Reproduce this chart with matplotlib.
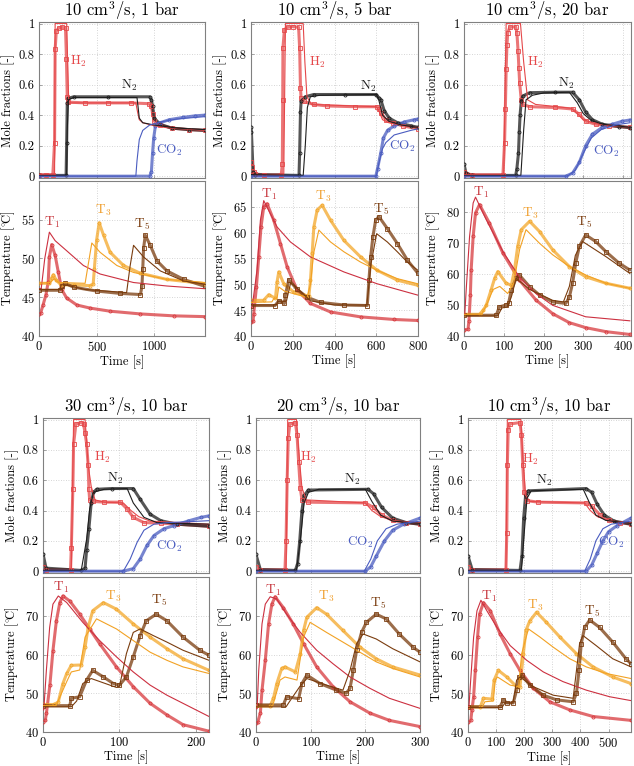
import matplotlib
matplotlib.use("Agg")
import matplotlib.pyplot as plt
import numpy as np

plt.rcParams['font.family'] = ['cmr10', 'DejaVu Serif']
plt.rcParams['mathtext.fontset'] = 'cm'
plt.rcParams['axes.formatter.use_mathtext'] = True
plt.rcParams['axes.unicode_minus'] = False

# ---- titles / limits ----
titles = ['10 cm$^3$/s, 1 bar', '10 cm$^3$/s, 5 bar', '10 cm$^3$/s, 20 bar',
          '30 cm$^3$/s, 10 bar', '20 cm$^3$/s, 10 bar', '10 cm$^3$/s, 10 bar']
xmax = [1440, 800, 420, 217, 300, 580]
xticks = [[0, 500, 1000], [0, 200, 400, 600, 800], [0, 100, 200, 300, 400],
          [0, 100, 200], [0, 100, 200, 300], [0, 100, 200, 300, 400, 500]]
tmax = [60, 70, 90, 80, 80, 80]
tstep = [5, 5, 10, 10, 10, 10]

# ---- panel A: 10 cm3/s, 1 bar ----
a_h2_exp = [(0,0.01),(60,0.01),(120,0.01),(135,0.22),(140,0.83),(150,0.95),(170,0.97),(200,0.975),(230,0.97),(238,0.77),(245,0.52),(255,0.485),(400,0.48),(600,0.48),(800,0.48),(950,0.475),(975,0.46),(985,0.41),(1000,0.36),(1050,0.335),(1150,0.315),(1300,0.305),(1440,0.30)]
a_h2_mod = [(0,0.01),(135,0.01),(140,1.0),(240,1.0),(258,0.48),(840,0.48),(855,0.42),(870,0.37),(900,0.35),(1000,0.33),(1150,0.315),(1440,0.30)]
a_n2_exp = [(0,0.005),(235,0.005),(240,0.22),(245,0.48),(255,0.51),(300,0.52),(600,0.52),(960,0.52),(975,0.50),(985,0.46),(1000,0.38),(1050,0.34),(1150,0.315),(1300,0.305),(1440,0.30)]
a_n2_mod = [(0,0.005),(240,0.005),(245,0.3),(255,0.5),(300,0.515),(850,0.515),(860,0.45),(870,0.38),(900,0.35),(1000,0.335),(1200,0.315),(1440,0.305)]
a_co2_exp = [(0,0.0),(960,0.0),(975,0.03),(985,0.15),(995,0.25),(1010,0.33),(1050,0.35),(1130,0.37),(1250,0.385),(1350,0.395),(1440,0.40)]
a_co2_mod = [(0,0.0),(840,0.0),(850,0.1),(870,0.24),(900,0.3),(960,0.335),(1050,0.355),(1200,0.375),(1440,0.39)]
a_t1_exp = [(0,42.8),(15,43.0),(35,44.0),(60,45.3),(80,47),(90,50.2),(110,51.8),(140,50.4),(168,48.2),(197,46.0),(240,44.9),(328,44.0),(443,43.6),(617,43.2),(878,42.85),(1168,42.6),(1440,42.5)]
a_t1_mod = [(0,46.0),(20,46.2),(50,50),(90,53.4),(140,52.3),(240,51.0),(385,49.1),(530,48.0),(820,46.9),(1110,46.45),(1440,46.1)]
a_t3_exp = [(0,46.8),(90,46.8),(110,47.5),(125,47.9),(150,47.2),(190,46.6),(300,46.6),(440,46.5),(470,46.7),(480,48.6),(500,52.4),(522,54.6),(560,53.0),(617,50.8),(733,49.1),(878,48.1),(1110,47.3),(1440,46.75)]
a_t3_mod = [(0,46.8),(100,46.9),(130,47.4),(170,46.9),(400,46.8),(430,49.5),(458,52.0),(530,50.8),(675,49.1),(820,48.2),(1110,47.3),(1440,46.9)]
a_t5_exp = [(0,45.9),(180,45.9),(200,46.5),(225,46.8),(300,46.3),(500,45.8),(700,45.5),(880,45.35),(893,46.4),(900,48.6),(907,51.3),(922,53.0),(965,51.7),(1023,49.7),(1110,48.4),(1255,47.3),(1440,46.4)]
a_t5_mod = [(0,46.0),(200,46.0),(230,46.6),(400,46.0),(760,45.6),(790,49),(820,51.7),(907,50.2),(1052,48.4),(1255,47.1),(1440,46.7)]

# ---- panel B: 10 cm3/s, 5 bar ----
b_h2_exp = [(0,0.09),(5,0.06),(12,0.03),(20,0.015),(60,0.008),(145,0.01),(150,0.08),(152,0.5),(153,0.84),(160,0.96),(175,0.975),(200,0.98),(228,0.975),(233,0.84),(237,0.58),(240,0.51),(252,0.49),(300,0.47),(365,0.46),(500,0.455),(605,0.455),(614,0.44),(622,0.415),(646,0.37),(678,0.35),(726,0.33),(800,0.31)]
b_h2_mod = [(0,0.02),(20,0.01),(157,0.01),(165,1.0),(250,1.0),(258,0.75),(268,0.52),(290,0.47),(600,0.455),(612,0.43),(630,0.37),(660,0.35),(720,0.335),(800,0.32)]
b_n2_exp = [(0,0.32),(2,0.29),(10,0.03),(20,0.01),(230,0.005),(233,0.15),(237,0.42),(240,0.49),(260,0.52),(300,0.535),(450,0.535),(600,0.535),(614,0.51),(622,0.5),(638,0.43),(662,0.38),(702,0.35),(766,0.33),(800,0.32)]
b_n2_mod = [(0,0.01),(250,0.005),(260,0.2),(270,0.45),(284,0.52),(330,0.53),(600,0.535),(612,0.5),(630,0.4),(660,0.36),(720,0.335),(800,0.32)]
b_co2_exp = [(0,0),(598,0.0),(606,0.05),(622,0.155),(634,0.25),(654,0.3),(686,0.33),(734,0.355),(782,0.37),(800,0.375)]
b_co2_mod = [(0,0),(600,0.0),(615,0.1),(630,0.18),(646,0.22),(686,0.27),(766,0.3),(800,0.31)]
b_t1_exp = [(0,42.8),(10,42.9),(13,44.3),(26,49.5),(37,55.3),(48,61.1),(61,65.0),(77,65.6),(109,62.4),(141,57.9),(173,53.4),(221,48.9),(285,46.3),(381,44.65),(525,43.7),(685,43.2),(800,43.0)]
b_t1_mod = [(0,45.5),(5,45.5),(29,52.7),(45,62.4),(61,66.2),(125,61.1),(189,58.2),(285,55.3),(445,52.4),(605,50.1),(800,47.9)]
b_t3_exp = [(0,46.9),(60,46.9),(85,48.0),(117,47.3),(125,50.5),(133,52.4),(157,50.1),(205,48.5),(253,47.9),(277,47.7),(285,50.8),(293,56.0),(301,61.1),(317,64.4),(341,65.3),(381,62.4),(445,58.5),(525,55.3),(605,52.7),(701,50.8),(800,49.8)]
b_t3_mod = [(0,46.5),(100,46.6),(110,47.3),(125,47.3),(133,49.5),(160,48.7),(221,48.0),(269,47.5),(285,50),(300,56),(325,60.5),(381,58.2),(445,56.3),(525,54.3),(605,52.7),(701,51.1),(800,50.1)]
b_t5_exp = [(0,45.9),(115,45.9),(133,46.8),(160,46.3),(165,48),(181,50.9),(221,49.0),(269,47.5),(333,46.5),(445,46.0),(557,45.9),(565,50.8),(573,55.3),(584,59.2),(597,62.4),(613,63.1),(653,60.8),(701,57.9),(749,54.7),(800,52.1)]
b_t5_mod = [(0,46.0),(120,46.0),(130,46.7),(170,46.8),(190,50.3),(215,49.5),(285,46.8),(400,46.0),(555,46.0),(575,54),(602,59.8),(653,58.2),(701,56.3),(749,54.3),(800,52.7)]

# ---- panel C: 10 cm3/s, 20 bar ----
c_h2_exp = [(0,0.03),(5,0.015),(20,0.01),(98,0.01),(102,0.22),(104,0.44),(106,0.70),(108,0.86),(110,0.94),(115,0.975),(130,0.98),(133,0.94),(136,0.82),(138,0.71),(140,0.61),(144,0.50),(148,0.47),(165,0.455),(230,0.45),(273,0.44),(290,0.405),(306,0.36),(331,0.34),(365,0.33),(417,0.32)]
c_h2_mod = [(0,0.01),(100,0.01),(106,1.0),(142,1.0),(150,0.75),(160,0.5),(180,0.47),(270,0.445),(285,0.41),(300,0.37),(330,0.345),(370,0.33),(417,0.32)]
c_n2_exp = [(0,0.08),(5,0.02),(20,0.005),(130,0.005),(133,0.05),(137,0.15),(139,0.29),(141,0.40),(144,0.49),(148,0.525),(165,0.547),(230,0.55),(273,0.55),(290,0.50),(306,0.42),(323,0.37),(348,0.34),(390,0.325),(417,0.318)]
c_n2_mod = [(0,0.005),(143,0.005),(150,0.3),(156,0.5),(172,0.53),(200,0.545),(265,0.55),(285,0.48),(300,0.41),(320,0.365),(350,0.34),(417,0.32)]
c_co2_exp = [(0,0),(256,0.0),(273,0.02),(290,0.09),(306,0.2),(323,0.275),(348,0.32),(373,0.34),(398,0.36),(417,0.368)]
c_co2_mod = [(0,0),(260,0.0),(280,0.04),(300,0.15),(320,0.25),(345,0.305),(380,0.335),(417,0.35)]
c_t1_exp = [(0,42.05),(10,42.1),(12.5,45),(16,53.2),(18,61.3),(23,72.1),(29,79.7),(39,82.4),(64,76.4),(98,66.7),(139,58.1),(181,51.6),(223,47.2),(265,44.3),(306,42.7),(357,41.4),(417,40.5)]
c_t1_mod = [(0,47.2),(2,47.2),(6,55.9),(14,72.1),(23,82.9),(29,84.8),(56,77.5),(98,67.2),(139,59.1),(181,53.7),(223,49.9),(306,46.2),(417,44.9)]
c_t3_exp = [(0,47.0),(39,47.0),(48,48.3),(56,49.9),(68,54.8),(77,58.6),(85,60.8),(106,57.0),(119,56.4),(127,61.3),(135,68.9),(144,74.3),(165,77.0),(190,73.7),(223,67.8),(265,62.4),(306,59.1),(357,57.0),(417,55.4)]
c_t3_mod = [(0,47.0),(45,47.0),(60,51),(73,55),(90,56),(110,53.7),(125,57),(140,68),(156,74.3),(190,69.9),(223,66.2),(265,62.4),(306,59.7),(357,57.0),(417,55.4)]
c_t5_exp = [(0,46.7),(81,46.7),(89,49.4),(106,50.0),(112,50.5),(119,54.8),(131,58.6),(139,59.7),(165,55.9),(190,53.2),(223,51.0),(256,50.5),(265,52.6),(273,57.0),(281,63.5),(290,68.9),(306,72.6),(331,70.5),(357,67.2),(390,63.5),(417,61.3)]
c_t5_mod = [(0,46.5),(85,46.5),(95,49.0),(110,49.5),(120,53),(131,58.6),(165,55),(223,51.5),(250,51),(265,56),(280,66),(298,70.5),(357,65.6),(417,60.2)]

# ---- panel D: 30 cm3/s, 10 bar ----
d_h2_exp = [(0,0.03),(4,0.01),(36,0.01),(37,0.15),(39,0.54),(40,0.84),(43,0.97),(50,0.98),(53,0.97),(55,0.91),(57,0.84),(59,0.70),(60,0.54),(61,0.47),(66,0.46),(80,0.455),(101,0.455),(110,0.41),(118,0.355),(132,0.32),(154,0.317),(175,0.31),(217,0.296)]
d_h2_mod = [(0,0.005),(37,0.005),(40,1.0),(55,1.0),(57,0.86),(59,0.7),(63,0.56),(68,0.47),(80,0.455),(105,0.45),(115,0.40),(125,0.36),(140,0.33),(217,0.31)]
d_n2_exp = [(0,0.115),(4,0.02),(50,0.005),(55,0.02),(57,0.14),(60,0.28),(63,0.45),(66,0.52),(70,0.54),(90,0.545),(118,0.545),(127,0.474),(140,0.376),(154,0.333),(175,0.31),(217,0.296)]
d_n2_mod = [(0,0.005),(50,0.005),(57,0.21),(61,0.41),(66,0.52),(80,0.54),(110,0.545),(118,0.45),(132,0.355),(149,0.32),(217,0.31)]
d_co2_exp = [(0,0),(105,0.0),(118,0.017),(127,0.08),(136,0.17),(145,0.235),(158,0.28),(171,0.30),(189,0.33),(206,0.354),(217,0.365)]
d_co2_mod = [(0,0),(105,0.0),(114,0.08),(123,0.19),(132,0.27),(145,0.31),(162,0.32),(189,0.326),(217,0.333)]
d_t1_exp = [(0,42.7),(3,43.0),(4.5,44.9),(9,52.1),(13,61),(17.5,68.7),(22,73.4),(26,75.1),(35,73.8),(48,70.4),(61,66.6),(74,62.8),(96,56.8),(118,51.7),(140,47.4),(162,44.4),(183,41.9),(217,40.2)]
d_t1_mod = [(0,45.7),(1,45.7),(4.4,55.9),(8.7,67.0),(13,73),(20,75.1),(31,73.4),(52,68.3),(74,63.6),(96,59.4),(118,55.5),(140,52.1),(162,49.5),(183,47.4),(217,44.0)]
d_t3_exp = [(0,47.1),(15,47.1),(20,47.8),(26,52.5),(31,55.1),(37,57.2),(50,57.3),(55,61.9),(59,67.0),(65,71.3),(79,73.4),(96,71.7),(118,67.9),(140,64.5),(162,61.5),(183,58.9),(217,55.9)]
d_t3_mod = [(0,46.8),(17,46.8),(31,53.0),(37,55.5),(48,56),(55,64.5),(70,69.2),(96,66.6),(118,63.6),(140,60.6),(162,58.5),(183,56.8),(217,55.1)]
d_t5_exp = [(0,46.8),(35,46.8),(37,48.7),(48,49.1),(57,53.4),(65,55.9),(79,54.2),(92,52.5),(100,52.1),(109,54.2),(118,59.4),(127,64.9),(135,68.7),(148,70.4),(162,68.7),(183,64.5),(205,61.1),(217,59.8)]
d_t5_mod = [(0,46.5),(37,46.5),(44,48),(52,52.5),(63,53.8),(96,51.5),(100,51.8),(109,60.2),(118,65.7),(127,66.6),(144,64.9),(162,63.2),(183,61.1),(217,58.5)]

# ---- panel E: 20 cm3/s, 10 bar ----
e_h2_exp = [(0,0.03),(8,0.01),(53,0.01),(55,0.2),(57,0.6),(59,0.88),(62,0.97),(72,0.98),(75,0.9),(78,0.72),(81,0.55),(84,0.47),(95,0.455),(200,0.45),(215,0.42),(230,0.37),(250,0.335),(275,0.32),(300,0.31)]
e_h2_mod = [(0,0.005),(55,0.005),(58,1.0),(74,1.0),(78,0.8),(84,0.55),(92,0.47),(200,0.45),(212,0.4),(228,0.36),(250,0.335),(300,0.315)]
e_n2_exp = [(0,0.11),(8,0.01),(72,0.005),(76,0.05),(80,0.2),(84,0.4),(88,0.5),(96,0.535),(205,0.54),(215,0.51),(230,0.42),(250,0.35),(275,0.32),(300,0.31)]
e_n2_mod = [(0,0.005),(74,0.005),(81,0.2),(88,0.45),(96,0.52),(115,0.54),(200,0.54),(212,0.46),(228,0.37),(250,0.33),(300,0.315)]
e_co2_exp = [(0,0),(200,0.0),(210,0.03),(220,0.1),(235,0.2),(250,0.27),(270,0.31),(300,0.35)]
e_co2_mod = [(0,0),(198,0.0),(210,0.08),(222,0.2),(238,0.28),(258,0.31),(300,0.33)]
e_t1_exp = [(0,42.3),(3,42.5),(8,44.9),(11,50.8),(17,58.5),(23,67.9),(29,73),(35,74.9),(50,72.1),(68,67.9),(87,62.8),(111,56.8),(141,51.7),(172,47.8),(208,44.9),(244,43.0),(300,41.4)]
e_t1_mod = [(0,46.0),(2,46),(5,55.9),(11,67.9),(17,73),(26,74.9),(38,74.3),(56,70.4),(81,65.7),(111,61.1),(141,57.6),(172,54.2),(208,51.3),(244,48.7),(300,46.1)]
e_t3_exp = [(0,46.8),(26,46.8),(32,48.7),(38,52.5),(47,56.4),(53,56.8),(72,55.5),(81,60.2),(87,66.2),(93,69.6),(111,72.1),(129,70.4),(159,66.2),(190,61.9),(220,58.9),(250,56.8),(300,54.7)]
e_t3_mod = [(0,46.5),(30,46.5),(44,53.4),(53,54.2),(75,53.4),(87,64.5),(99,68.3),(129,65.7),(159,63.2),(190,60.6),(220,58.1),(250,56.4),(300,54.2)]
e_t5_exp = [(0,47.0),(50,47.0),(56,49.1),(78,48.6),(84,52.5),(93,54.7),(117,52.5),(147,50.8),(165,50.0),(172,51.3),(178,55.9),(184,61.1),(193,65.7),(202,68.3),(220,70.4),(238,69.2),(262,65.3),(287,61.9),(300,60.6)]
e_t5_mod = [(0,46.5),(55,46.5),(62,48),(80,51.7),(93,53.8),(129,52.1),(159,50.8),(172,55.9),(184,62.8),(196,65.3),(220,64.0),(250,61.5),(300,58.1)]

# ---- panel F: 10 cm3/s, 10 bar ----
f_h2_exp = [(0,0.03),(15,0.01),(135,0.01),(138,0.25),(140,0.7),(143,0.93),(148,0.97),(185,0.98),(190,0.9),(195,0.7),(200,0.52),(210,0.465),(250,0.455),(420,0.45),(440,0.43),(470,0.37),(500,0.335),(540,0.32),(580,0.31)]
f_h2_mod = [(0,0.005),(135,0.005),(140,1.0),(188,1.0),(195,0.75),(205,0.5),(220,0.46),(415,0.45),(435,0.4),(460,0.36),(500,0.335),(580,0.315)]
f_n2_exp = [(0,0.1),(15,0.01),(185,0.005),(192,0.1),(198,0.35),(205,0.5),(215,0.53),(420,0.545),(440,0.52),(460,0.44),(485,0.37),(520,0.33),(580,0.31)]
f_n2_mod = [(0,0.005),(190,0.005),(200,0.25),(210,0.48),(225,0.53),(410,0.54),(430,0.46),(455,0.37),(490,0.335),(580,0.315)]
f_co2_exp = [(0,0),(420,0.0),(440,0.04),(460,0.12),(480,0.2),(500,0.26),(530,0.3),(580,0.35)]
f_co2_mod = [(0,0),(415,0.0),(435,0.08),(455,0.2),(480,0.28),(510,0.31),(580,0.33)]
f_t1_exp = [(0,42.5),(10,43),(14,45.7),(20,49.1),(26,55.9),(34,64.5),(41,70.4),(55,73.4),(79,71.3),(114,65.3),(150,60.2),(185,55.9),(232,51.3),(291,47.8),(362,45.7),(445,44.0),(580,43.0)]
f_t1_mod = [(0,46.0),(3,46),(8,51.7),(20,64.5),(32,71.3),(46,74.0),(67,71.3),(103,67.0),(150,62.3),(209,58.5),(268,55.5),(338,53.0),(421,50.8),(504,49.1),(580,48.1)]
f_t3_exp = [(0,46.5),(44,46.5),(55,48.7),(85,48.5),(93,53.4),(108,55.9),(138,54.2),(173,51.7),(185,51.7),(197,60.2),(206,66.2),(220,68.7),(244,70.9),(279,68.3),(327,64.5),(386,60.2),(445,56.8),(515,54.2),(580,52.5)]
f_t3_mod = [(0,46.3),(50,46.3),(60,47.8),(90,48),(97,53.4),(105,54.2),(150,52.1),(180,51.7),(191,60.2),(215,66.6),(256,64.5),(303,61.9),(362,58.9),(421,56.8),(492,55.1),(580,53.8)]
f_t5_exp = [(0,46.5),(114,46.5),(126,48.3),(138,47.5),(161,47.5),(173,50.8),(183,54.2),(191,54.7),(220,52.1),(268,49.5),(315,48.3),(374,47.8),(386,50.0),(395,55.9),(403,62.8),(415,67.0),(433,68.9),(468,67.0),(515,63.2),(562,58.9),(580,57.6)]
f_t5_mod = [(0,46.3),(120,46.3),(132,47.5),(160,47.5),(173,53.4),(185,54.2),(232,51.7),(303,49.5),(374,48.7),(386,55.9),(397,62.8),(409,64.9),(456,62.3),(515,58.9),(580,56.8)]

# label anchor points (t, value) for curve names
gas_lbl = [[(342, 0.754), (783, 0.597), (1130, 0.17)],
           [(318, 0.743), (561, 0.586), (726, 0.194)],
           [(178, 0.743), (258, 0.608), (357, 0.161)],
           [(77, 0.752), (94, 0.611), (165, 0.165)],
           [(96, 0.75), (176, 0.605), (191, 0.19)],
           [(222, 0.74), (273, 0.6), (510, 0.19)]]
tmp_lbl = [[(110, 54.7), (559, 56.2), (893, 54.4)],
           [(85, 67.5), (344, 67.1), (621, 64.5)],
           [(43, 86.4), (166, 79.4), (302, 76.6)],
           [(24, 77.4), (92, 75.0), (152, 74.0)],
           [(32, 76.6), (128, 74.9), (224, 73.2)],
           [(73, 74.9), (238, 72.7), (441, 71.0)]]

gas_series = [
    [(a_h2_exp, a_h2_mod), (a_n2_exp, a_n2_mod), (a_co2_exp, a_co2_mod)],
    [(b_h2_exp, b_h2_mod), (b_n2_exp, b_n2_mod), (b_co2_exp, b_co2_mod)],
    [(c_h2_exp, c_h2_mod), (c_n2_exp, c_n2_mod), (c_co2_exp, c_co2_mod)],
    [(d_h2_exp, d_h2_mod), (d_n2_exp, d_n2_mod), (d_co2_exp, d_co2_mod)],
    [(e_h2_exp, e_h2_mod), (e_n2_exp, e_n2_mod), (e_co2_exp, e_co2_mod)],
    [(f_h2_exp, f_h2_mod), (f_n2_exp, f_n2_mod), (f_co2_exp, f_co2_mod)],
]
tmp_series = [
    [(a_t1_exp, a_t1_mod), (a_t3_exp, a_t3_mod), (a_t5_exp, a_t5_mod)],
    [(b_t1_exp, b_t1_mod), (b_t3_exp, b_t3_mod), (b_t5_exp, b_t5_mod)],
    [(c_t1_exp, c_t1_mod), (c_t3_exp, c_t3_mod), (c_t5_exp, c_t5_mod)],
    [(d_t1_exp, d_t1_mod), (d_t3_exp, d_t3_mod), (d_t5_exp, d_t5_mod)],
    [(e_t1_exp, e_t1_mod), (e_t3_exp, e_t3_mod), (e_t5_exp, e_t5_mod)],
    [(f_t1_exp, f_t1_mod), (f_t3_exp, f_t3_mod), (f_t5_exp, f_t5_mod)],
]

gas_names = ['H$_2$', 'N$_2$', 'CO$_2$']
tmp_names = ['T$_1$', 'T$_3$', 'T$_5$']
gas_col = ['#e5484a', '#1e1e1e', '#4a5cc0']
gas_mk = ['s', 'o', 'o']
tmp_col = ['#d83a3e', '#f3a72a', '#7a3c0e']
tmp_mod_col = ['#cc3040', '#f2a224', '#7a3c0e']
tmp_lblcol = ['#c8383f', '#f0a030', '#7a3c0e']

# pixel boxes: (left, right) per column, (top, bottom) per row
cols_top = [(39, 205), (251, 418), (464, 631)]
cols_bot = [(43, 209), (256, 420), (468, 631)]
rows = [((22, 178), (181, 336)), ((418, 573), (577, 732))]

W, H = 634, 766
fig = plt.figure(figsize=(W / 100, H / 100), dpi=100)


def box(l, r, t, b):
    return [l / W, 1 - b / H, (r - l) / W, (b - t) / H]


def style(ax):
    for s in ax.spines.values():
        s.set_color('#808080')
        s.set_linewidth(0.8)
    ax.grid(True, color='#c8c8c8', linestyle=(0, (1, 2)), linewidth=0.6)
    ax.set_axisbelow(True)
    ax.tick_params(direction='in', length=2.5, width=0.5, color='#808080',
                   labelsize=9, pad=3)


def draw(ax, series, colors, mcolors, markers):
    for (exp, mod), c, mc, mk in zip(series, colors, mcolors, markers):
        e = np.array(exp)
        m = np.array(mod)
        ax.plot(e[:, 0], e[:, 1], color=c, lw=2.2, alpha=0.75, zorder=2,
                solid_capstyle='round')
        ax.plot(e[:, 0], e[:, 1], ls='none', marker=mk, ms=2.2, mfc='none',
                mec=c, mew=0.6, zorder=3)
        ax.plot(m[:, 0], m[:, 1], color=mc, lw=0.8, zorder=4)


for k in range(6):
    r = k // 3
    l, rr = (cols_top if r == 0 else cols_bot)[k % 3]
    (mt, mb), (tt, tb) = rows[r]

    ax1 = fig.add_axes(box(l, rr, mt, mb))
    style(ax1)
    draw(ax1, gas_series[k], gas_col, gas_col, gas_mk)
    ax1.set_xlim(0, xmax[k])
    ax1.set_ylim(-0.012, 1.01)
    ax1.set_xticks(xticks[k])
    ax1.set_xticklabels([])
    ax1.set_yticks([0, 0.2, 0.4, 0.6, 0.8, 1])
    ax1.set_yticklabels(['0', '0.2', '0.4', '0.6', '0.8', '1'])
    ax1.set_ylabel('Mole fractions [-]', fontsize=9, labelpad=3)
    ax1.set_title(titles[k], fontsize=12, pad=2)
    for (x, y), name, c in zip(gas_lbl[k], gas_names, gas_col):
        ax1.text(x, y, name, color=c, fontsize=9.5, ha='center', va='center')

    ax2 = fig.add_axes(box(l, rr, tt, tb))
    style(ax2)
    draw(ax2, tmp_series[k], tmp_col, tmp_mod_col, ['o', 'o', 's'])
    ax2.set_xlim(0, xmax[k])
    ax2.set_ylim(40, tmax[k])
    ax2.set_xticks(xticks[k])
    ax2.set_yticks(np.arange(40, tmax[k], tstep[k]))
    ax2.set_ylabel(r'Temperature [$^{\circ}\!$C]', fontsize=9, labelpad=3)
    ax2.set_xlabel('Time [s]', fontsize=9, labelpad=1)
    for (x, y), name, c in zip(tmp_lbl[k], tmp_names, tmp_lblcol):
        ax2.text(x, y, name, color=c, fontsize=9.5, ha='center', va='center')

fig.savefig('out.png', dpi=100)
